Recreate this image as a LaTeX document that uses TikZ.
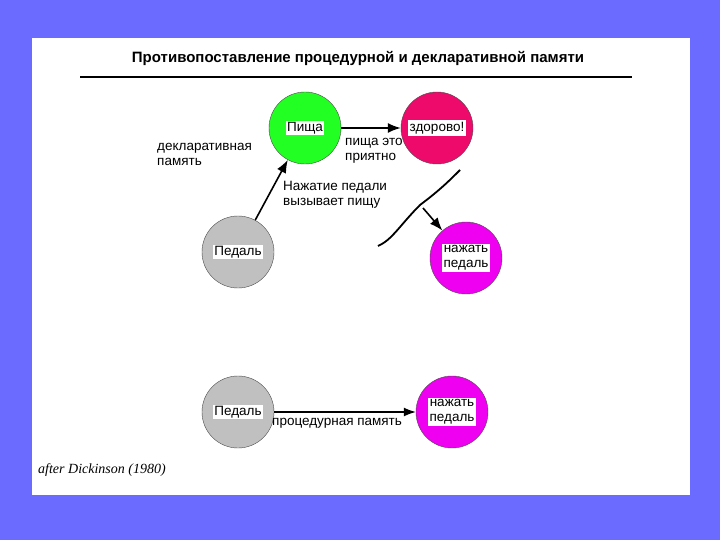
\documentclass[tikz,border=0pt]{standalone}
\usepackage{fontspec}
\setmainfont{Liberation Sans}
\newfontfamily\timesit{Liberation Serif}
\usetikzlibrary{arrows.meta}
\definecolor{bgblue}{HTML}{6B6BFF}
\definecolor{cgreen}{HTML}{22FF22}
\definecolor{ccrim}{HTML}{EE0A6A}
\definecolor{cgrey}{HTML}{C0C0C0}
\definecolor{cmag}{HTML}{F000F0}
\begin{document}
\begin{tikzpicture}[x=1pt,y=-1pt,
  circ/.style={circle,minimum size=72pt,inner sep=0pt,draw=black!70,line width=0.4pt},
  lbl/.style={fill=white,inner sep=1.5pt,font=\fontsize{13.5}{15}\selectfont,align=center},
  txt/.style={font=\fontsize{13.5}{15.5}\selectfont,align=left,inner sep=0pt},
  arr/.style={-{Latex[length=13pt,width=10pt]},line width=1.6pt}]
\fill[bgblue] (0,0) rectangle (720,540);
\fill[white] (32,38) rectangle (690,495);
\useasboundingbox (0,0) rectangle (720,540);
\node[font=\fontsize{15}{16}\selectfont\bfseries] (title) at (358,58) {Противопоставление процедурной и декларативной памяти};
\draw[line width=1.2pt] (80,77) -- (632,77);
\node[circ,fill=cgreen] (food) at (305,128) {};
\node[lbl] at (food.center) {Пища};
\node[circ,fill=ccrim] (good) at (437,128) {};
\node[lbl] at (good.center) {здорово!};
\node[circ,fill=cgrey] (ped) at (238,252) {};
\node[lbl] at (ped.center) {Педаль};
\node[circ,fill=cmag] (press) at (466,258) {};
\node[lbl] at (press.center) {нажать\\педаль};
\node[circ,fill=cgrey] (ped2) at (238,412) {};
\node[lbl] at (ped2.center) {Педаль};
\node[circ,fill=cmag] (press2) at (452,412) {};
\node[lbl] at (press2.center) {нажать\\педаль};
\draw[arr] (food) -- (good);
\draw[arr] (ped) -- (food);
\draw[-{Latex[length=12pt,width=9pt]},line width=1.2pt] (ped2) -- (press2);
\draw[line width=1.8pt] (378,246) .. controls (392,240) and (400,225) .. (420,205)
  .. controls (440,190) and (450,180) .. (460,170);
\coordinate (br) at (423,208);
\draw[arr] (br) -- (press);
\node[txt,anchor=north west] (decl) at (157,143) {декларативная\\память};
\node[txt,anchor=north west] (nice) at (345,138) {пища это\\приятно};
\node[txt,anchor=north west] (cause) at (283,181) {Нажатие педали\\вызывает пищу};
\node[txt,anchor=north west] (proc) at (272,418) {процедурная память};
\node[anchor=west,inner sep=0pt,font=\timesit\itshape\fontsize{14}{15}\selectfont] (cite) at (38,470) {after Dickinson (1980)};
\end{tikzpicture}
\end{document}
